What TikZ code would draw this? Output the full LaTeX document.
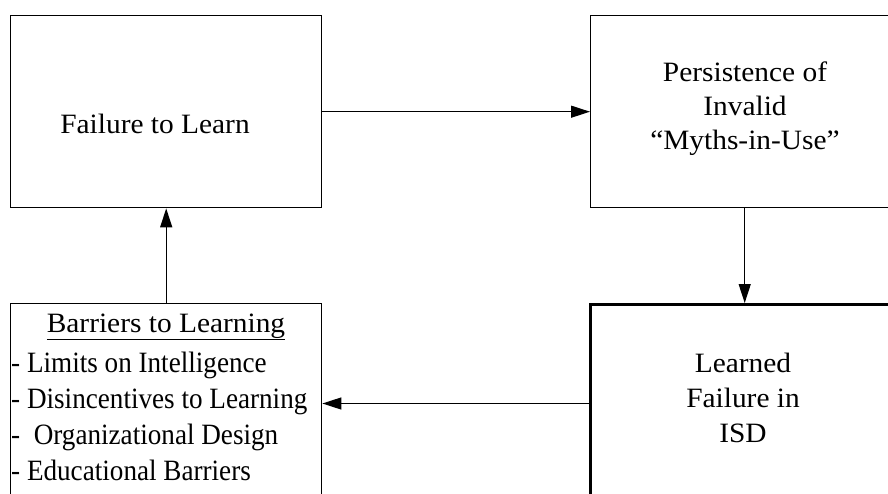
\documentclass[tikz,border=0pt]{standalone}
\usepackage{fontspec}
\setmainfont{Liberation Serif}[FakeStretch=1.05]
\newfontfamily\listfont{Liberation Serif}[FakeStretch=0.92]
\usetikzlibrary{arrows.meta}
\begin{document}
\begin{tikzpicture}[x=1pt,y=-1pt,
  box/.style={draw,line width=1.4pt,rectangle,inner sep=0pt,anchor=north west},
  lbl/.style={font=\fontsize{28}{34}\selectfont,align=center,inner sep=0pt,anchor=base},
  conn/.style={line width=1.3pt,-{Triangle[length=19pt,width=12pt]}}]
\useasboundingbox (0,0) rectangle (888,494);
\clip (0,0) rectangle (888,494);
\node[box,minimum width=311pt,minimum height=192pt] (fl) at (10,15) {};
\node[box,minimum width=308pt,minimum height=192pt] (pm) at (590,15) {};
\node[box,minimum width=311pt,minimum height=198pt] (bl) at (10,303) {};
\node[box,line width=3pt,minimum width=310pt,minimum height=198pt] (lf) at (589,303) {};
\node[lbl] (flt) at (155,134) {Failure to Learn};
\node[lbl] (pmt) at (745,150) {Persistence of\\Invalid\\“Myths-in-Use”};
\node[lbl,font=\fontsize{28}{35}\selectfont] (lft) at (743,442) {Learned\\Failure in\\ISD};
\node[lbl] (blh) at (166,332) {\underline{Barriers to Learning}};
\node[lbl,font=\listfont\fontsize{29.5}{36}\selectfont,align=left,anchor=base west] (blt) at (11,480)
  {- Limits on Intelligence\\- Disincentives to Learning\\-\ \ Organizational Design\\- Educational Barriers};
\draw[conn] (fl.east) -- (fl.east -| pm.west);
\draw[conn] (pm.south) -- (pm.south |- lf.north);
\draw[conn] (lf.west) -- (lf.west -| bl.east);
\draw[conn] (bl.north) -- (bl.north |- fl.south);
\end{tikzpicture}
\end{document}
